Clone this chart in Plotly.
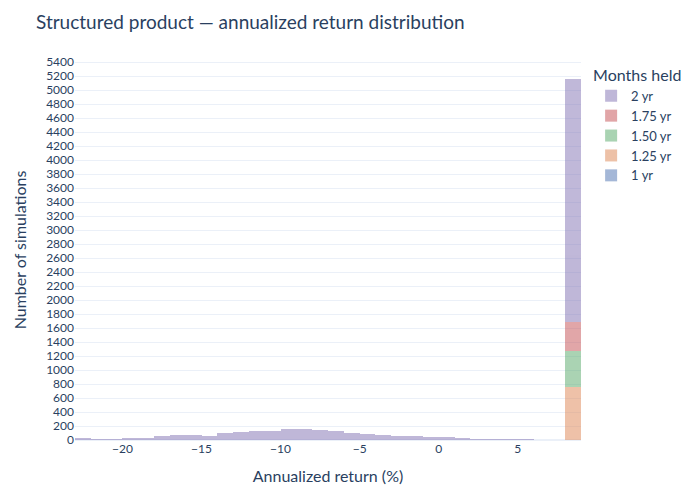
import plotly.graph_objects as go

# bin centres (bins of width 1, from -23 to 9)
bin_left = list(range(-23, 9))
bin_mid = [b + 0.5 for b in bin_left]

# counts per bin
count_2yr = [29, 14, 14, 29, 29, 57, 71, 71, 57, 100, 114, 129, 129, 157, 157, 143,
             129, 100, 86, 71, 57, 57, 43, 43, 29, 14, 14, 14, 14, 0, 0, 3480]
count_175 = [0] * 31 + [410]
count_150 = [0] * 31 + [510]
count_125 = [0] * 31 + [760]
count_1yr = [0] * 32

series = [
    ("1 yr", count_1yr, "#4C72B0"),
    ("1.25 yr", count_125, "#DD8452"),
    ("1.50 yr", count_150, "#55A868"),
    ("1.75 yr", count_175, "#C44E52"),
    ("2 yr", count_2yr, "#8172B3"),
]

fig = go.Figure()
for name, counts, color in series:
    fig.add_trace(go.Bar(
        x=bin_mid, y=counts, name=name, width=1,
        marker=dict(color=color, line=dict(width=0)), opacity=0.5,
    ))

fig.update_layout(
    template="plotly_white",
    barmode="stack", bargap=0,
    width=700, height=500,
    font=dict(family="Source Sans Pro, Lato, sans-serif", size=13, color="#2a3f5f"),
    title=dict(text="Structured product — annualized return distribution",
               font=dict(size=19), x=0.04, xanchor="left", y=0.972, yanchor="middle"),
    legend=dict(title=dict(text="Months held", font=dict(size=16)),
                traceorder="reversed", font=dict(size=13)),
    margin=dict(l=62, r=127, t=52, b=68),
    xaxis=dict(title=dict(text="Annualized return (%)", font=dict(size=16)),
               range=[-23, 9], showgrid=False, tickfont=dict(size=12)),
    yaxis=dict(title=dict(text="Number of simulations", font=dict(size=16)),
               range=[0, 5430], dtick=200, tickfont=dict(size=12)),
)

fig.write_html("out.html")
